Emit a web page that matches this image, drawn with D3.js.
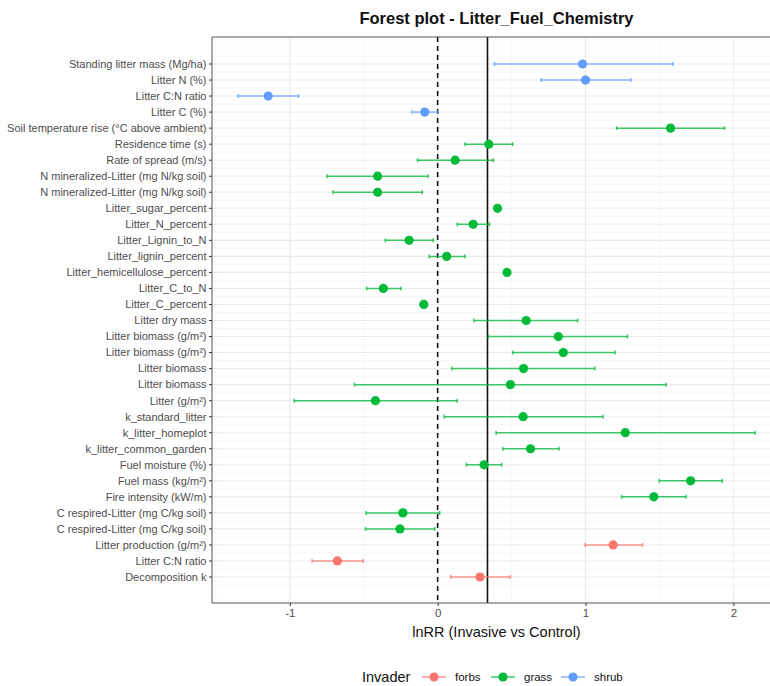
<!DOCTYPE html>
<html>
<head>
<meta charset="utf-8">
<script src="https://cdn.jsdelivr.net/npm/d3@7"></script>
<style>
  body { margin: 0; background: #fff; }
  svg { display: block; font-family: "Liberation Sans", Arial, sans-serif; }
</style>
</head>
<body>
<svg id="chart" width="770" height="686"></svg>
<script>
// outcomes, top to bottom
const outcomes = [
  'Standing litter mass (Mg/ha)', 'Litter N (%)', 'Litter C:N ratio', 'Litter C (%)',
  'Soil temperature rise (°C above ambient)', 'Residence time (s)', 'Rate of spread (m/s)',
  'N mineralized-Litter (mg N/kg soil)', 'N mineralized-Litter (mg N/kg soil)',
  'Litter_sugar_percent', 'Litter_N_percent', 'Litter_Lignin_to_N', 'Litter_lignin_percent',
  'Litter_hemicellulose_percent', 'Litter_C_to_N', 'Litter_C_percent', 'Litter dry mass',
  'Litter biomass (g/m²)', 'Litter biomass (g/m²)', 'Litter biomass', 'Litter biomass',
  'Litter (g/m²)', 'k_standard_litter', 'k_litter_homeplot', 'k_litter_common_garden',
  'Fuel moisture (%)', 'Fuel mass (kg/m²)', 'Fire intensity (kW/m)',
  'C respired-Litter (mg C/kg soil)', 'C respired-Litter (mg C/kg soil)',
  'Litter production (g/m²)', 'Litter C:N ratio', 'Decomposition k'
];
const invader = [
  'shrub', 'shrub', 'shrub', 'shrub',
  'grass', 'grass', 'grass', 'grass', 'grass', 'grass', 'grass', 'grass', 'grass',
  'grass', 'grass', 'grass', 'grass', 'grass', 'grass', 'grass', 'grass', 'grass',
  'grass', 'grass', 'grass', 'grass', 'grass', 'grass', 'grass', 'grass',
  'forbs', 'forbs', 'forbs'
];
const lnRR = [
  0.98, 1.00, -1.146, -0.087, 1.575, 0.346, 0.118, -0.406, -0.406, 0.405, 0.24,
  -0.193, 0.061, 0.469, -0.367, -0.094, 0.599, 0.816, 0.85, 0.581, 0.492, -0.421,
  0.578, 1.269, 0.628, 0.314, 1.711, 1.462, -0.235, -0.255, 1.187, -0.678, 0.286
];
const ciLow = [
  0.383, 0.70, -1.351, -0.173, 1.21, 0.185, -0.136, -0.748, -0.708, null, 0.133,
  -0.354, -0.057, null, -0.48, null, 0.245, 0.343, 0.507, 0.096, -0.562, -0.97,
  0.044, 0.395, 0.44, 0.195, 1.499, 1.244, -0.485, -0.488, 0.997, -0.849, 0.088
];
const ciHigh = [
  1.59, 1.306, -0.94, 0.0, 1.94, 0.507, 0.376, -0.065, -0.104, null, 0.351,
  -0.03, 0.185, null, -0.248, null, 0.947, 1.284, 1.2, 1.063, 1.546, 0.133,
  1.118, 2.147, 0.821, 0.433, 1.925, 1.68, 0.014, -0.02, 1.385, -0.503, 0.492
];
const overallMean = 0.337;
const groups = ['forbs', 'grass', 'shrub'];
const groupColors = ['#F8766D', '#00BA38', '#619CFF'];
const xTicks = [-1, 0, 1, 2];
const xTickLabels = ['-1', '0', '1', '2'];

const rows = outcomes.map((name, i) => ({
  i, name, group: invader[i], est: lnRR[i], lo: ciLow[i], hi: ciHigh[i]
}));

const svg = d3.select('#chart');
const panel = { left: 212, right: 781, top: 37, bottom: 603 };

const x = d3.scaleLinear().domain([-1.526, 2.322]).range([panel.left, panel.right]);
const y = d3.scaleLinear().domain([0, outcomes.length - 1]).range([64, 577]);
const color = d3.scaleOrdinal().domain(groups).range(groupColors);

// grid
const grid = svg.append('g');
const minorX = d3.range(-1.5, 2.5, 1);
grid.selectAll('.vminor').data(minorX).enter().append('line')
  .attr('x1', d => x(d)).attr('x2', d => x(d))
  .attr('y1', panel.top).attr('y2', panel.bottom)
  .attr('stroke', '#f2f2f2').attr('stroke-width', 0.6);
grid.selectAll('.vmajor').data(xTicks).enter().append('line')
  .attr('x1', d => x(d)).attr('x2', d => x(d))
  .attr('y1', panel.top).attr('y2', panel.bottom)
  .attr('stroke', '#ebebeb').attr('stroke-width', 1.1);
const minorY = d3.range(-1.5, outcomes.length + 1, 1).filter(v => y(v) > panel.top && y(v) < panel.bottom);
grid.selectAll('.hminor').data(minorY).enter().append('line')
  .attr('x1', panel.left).attr('x2', panel.right)
  .attr('y1', d => y(d)).attr('y2', d => y(d))
  .attr('stroke', '#f2f2f2').attr('stroke-width', 0.6);
grid.selectAll('.hmajor').data(rows).enter().append('line')
  .attr('x1', panel.left).attr('x2', panel.right)
  .attr('y1', d => y(d.i)).attr('y2', d => y(d.i))
  .attr('stroke', '#ebebeb').attr('stroke-width', 1.1);

// reference lines
svg.append('line')
  .attr('x1', x(0)).attr('x2', x(0)).attr('y1', panel.top).attr('y2', panel.bottom)
  .attr('stroke', '#111').attr('stroke-width', 1.6).attr('stroke-dasharray', '5,4');
svg.append('line')
  .attr('x1', x(overallMean)).attr('x2', x(overallMean)).attr('y1', panel.top).attr('y2', panel.bottom)
  .attr('stroke', '#111').attr('stroke-width', 1.6);

// error bars
const bars = rows.filter(d => d.lo != null);
const eb = svg.append('g').attr('stroke-opacity', 0.75).attr('stroke-width', 1.5);
eb.selectAll('.ci').data(bars).enter().append('line')
  .attr('x1', d => x(d.lo)).attr('x2', d => x(d.hi))
  .attr('y1', d => y(d.i)).attr('y2', d => y(d.i))
  .attr('stroke', d => color(d.group));
['lo', 'hi'].forEach(k => {
  eb.selectAll('.cap-' + k).data(bars).enter().append('line')
    .attr('x1', d => x(d[k])).attr('x2', d => x(d[k]))
    .attr('y1', d => y(d.i) - 2).attr('y2', d => y(d.i) + 2)
    .attr('stroke', d => color(d.group));
});

// points
svg.append('g').selectAll('circle').data(rows).enter().append('circle')
  .attr('cx', d => x(d.est)).attr('cy', d => y(d.i)).attr('r', 4.6)
  .attr('fill', d => color(d.group));

// panel border
svg.append('path')
  .attr('d', `M${panel.right},${panel.top}H${panel.left}V${panel.bottom}H${panel.right}`)
  .attr('fill', 'none').attr('stroke', '#555').attr('stroke-width', 1);

// axes
const xAxis = svg.append('g').attr('transform', `translate(0,${panel.bottom})`)
  .call(d3.axisBottom(x).tickValues(xTicks).tickSize(3).tickPadding(3)
    .tickFormat((d, i) => xTickLabels[i]));
xAxis.select('.domain').remove();
xAxis.selectAll('line').attr('stroke', '#333').attr('stroke-width', 1);
xAxis.selectAll('text').attr('fill', '#4d4d4d').style('font-size', '11.5px');

const yAxis = svg.append('g').attr('transform', `translate(${panel.left},0)`);
yAxis.selectAll('.tick').data(rows).enter().append('g')
  .attr('transform', d => `translate(0,${y(d.i)})`)
  .each(function (d) {
    const g = d3.select(this);
    g.append('line').attr('x1', -3).attr('x2', 0).attr('stroke', '#333');
    g.append('text').attr('x', -5.5).attr('dy', '0.35em').attr('text-anchor', 'end')
      .attr('fill', '#4d4d4d').style('font-size', '11px').text(d.name);
  });

const cx = (panel.left + panel.right) / 2;
svg.append('text').attr('x', cx).attr('y', 637).attr('text-anchor', 'middle')
  .style('font-size', '14.5px').attr('fill', '#111').text('lnRR (Invasive vs Control)');
svg.append('text').attr('x', cx).attr('y', 24).attr('text-anchor', 'middle')
  .style('font-size', '16.5px').style('font-weight', 'bold').attr('fill', '#111')
  .text('Forest plot - Litter_Fuel_Chemistry');

// legend
const legend = svg.append('g').attr('transform', 'translate(0,677)');
legend.append('text').attr('x', 362).attr('dy', '0.35em')
  .style('font-size', '14.5px').attr('fill', '#111').text('Invader');
const keyX = [434, 503, 573];
groups.forEach((g, i) => {
  const k = legend.append('g').attr('transform', `translate(${keyX[i]},0)`);
  k.append('line').attr('x1', -12).attr('x2', 12).attr('stroke', color(g))
    .attr('stroke-width', 1.5).attr('stroke-opacity', 0.75);
  k.append('circle').attr('r', 4.6).attr('fill', color(g));
  k.append('text').attr('x', 21).attr('dy', '0.35em').style('font-size', '11.5px')
    .attr('fill', '#111').text(g);
});
</script>
</body>
</html>
